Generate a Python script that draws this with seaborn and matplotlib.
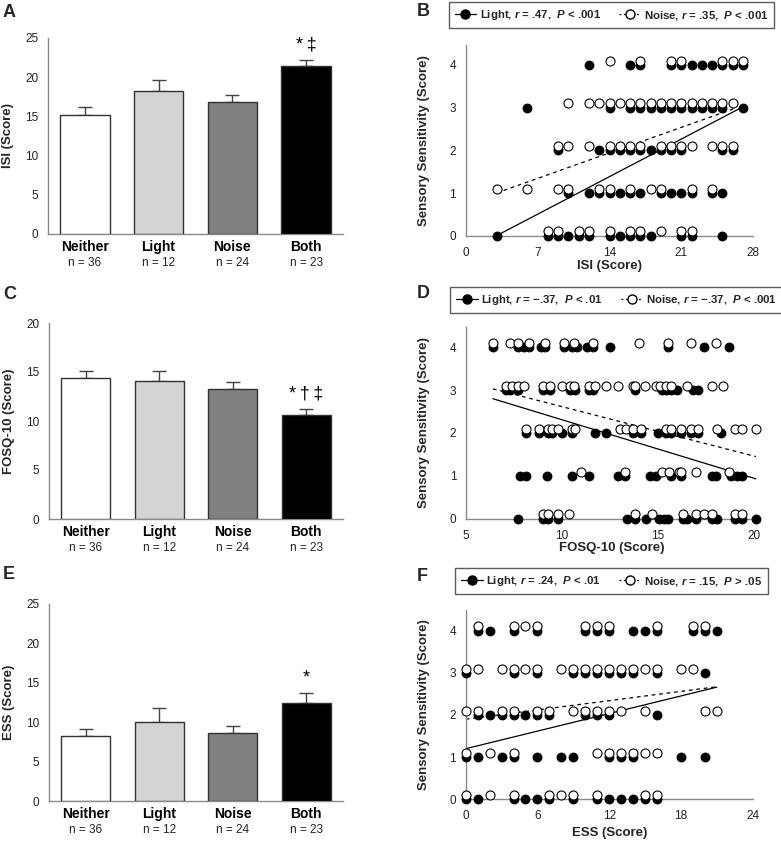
import numpy as np
import pandas as pd
import matplotlib
matplotlib.use("Agg")
import matplotlib.pyplot as plt
import matplotlib.transforms as mtransforms
from matplotlib.lines import Line2D
import seaborn as sns

# ---------------- data ----------------
cats = ["Neither", "Light", "Noise", "Both"]
ns = [36, 12, 24, 23]
bar_colors = ["#ffffff", "#d4d4d4", "#808080", "#000000"]

isi_mean = [15.2, 18.2, 16.9, 21.4]
isi_se = [0.95, 1.5, 0.8, 0.8]
isi_sig = ["", "", "", "*\u2009\u2021"]

fosq_mean = [14.4, 14.1, 13.3, 10.6]
fosq_se = [0.68, 1.02, 0.64, 0.58]
fosq_sig = ["", "", "", "*\u2009\u2020\u2009\u2021"]

ess_mean = [8.3, 10.0, 8.6, 12.5]
ess_se = [0.85, 1.8, 0.95, 1.2]
ess_sig = ["", "", "", "*"]

# scatter data: sensory sensitivity level -> scores
isi_light = {4: [12, 16, 17, 20, 21, 22, 23, 24, 25, 26, 27],
             3: [6, 14, 16, 17, 18, 19, 20, 21, 22, 23, 24, 25, 27],
             2: [9, 13, 14, 15, 16, 17, 18, 19, 20, 21, 25, 26],
             1: [10, 12, 13, 14, 15, 16, 17, 19, 20, 21, 22, 24, 25],
             0: [3, 8, 9, 10, 11, 12, 14, 15, 16, 17, 18, 21, 22, 25]}
isi_noise = {4: [14, 17, 20, 21, 25, 26, 27],
             3: [10, 12, 13, 14, 15, 16, 17, 18, 19, 20, 21, 22, 23, 24, 25, 26],
             2: [9, 10, 12, 14, 15, 16, 17, 19, 20, 21, 22, 24, 25, 26],
             1: [3, 6, 9, 10, 13, 14, 16, 18, 19, 22, 24],
             0: [8, 9, 11, 12, 14, 16, 17, 19, 21, 22]}
isi_light_fit_x = [3, 27]
isi_light_fit_y = [0.0, 3.02]
isi_noise_fit_x = [3, 26.4]
isi_noise_fit_y = [1.0, 3.0]

fosq_light = {4: [6.4, 7.7, 8.0, 8.3, 8.9, 9.1, 10.1, 10.5, 10.8, 11.3, 11.6, 12.5, 15.5, 17.4, 18.7],
              3: [7.1, 7.3, 7.7, 9.0, 9.4, 10.4, 10.7, 11.4, 11.6, 13.8, 15.2, 15.4, 15.7, 16.0, 16.8, 17.1],
              2: [8.1, 8.8, 9.25, 9.5, 10.0, 10.5, 11.7, 12.3, 13.7, 14.1, 15.0, 15.4, 15.7, 16.2, 16.7, 17.1, 18.3],
              1: [7.8, 8.1, 9.2, 10.5, 11.4, 12.9, 13.3, 14.6, 14.9, 15.7, 16.2, 17.8, 18.0, 18.8, 19.1, 19.4],
              0: [7.7, 9.0, 9.25, 9.8, 13.4, 13.8, 14.4, 15.05, 15.3, 15.5, 16.3, 16.5, 17.0, 17.8, 18.1, 19.0, 19.4, 20.1]}
fosq_noise = {4: [6.4, 7.3, 7.7, 8.3, 9.1, 10.1, 10.6, 11.6, 14.0, 15.5, 16.7, 18.0],
              3: [7.1, 7.4, 7.7, 8.0, 9.0, 9.4, 10.0, 10.4, 10.6, 11.4, 11.7, 12.3, 12.9, 13.7, 13.8,
                  14.3, 14.9, 15.1, 15.4, 15.7, 16.5, 17.8, 18.4],
              2: [8.1, 8.8, 9.25, 9.5, 9.8, 10.5, 10.7, 13.0, 13.35, 13.7, 14.1, 15.4, 15.7, 16.2,
                  16.7, 17.1, 18.1, 19.0, 19.4, 20.1],
              1: [11.0, 13.3, 15.2, 15.6, 16.1, 16.2, 17.0, 18.7],
              0: [9.0, 9.25, 9.8, 10.35, 13.8, 14.7, 16.3, 17.0, 17.4, 17.8, 19.0, 19.4]}
fosq_light_fit_x = [6.4, 20.1]
fosq_light_fit_y = [2.8, 0.93]
fosq_noise_fit_x = [6.4, 20.1]
fosq_noise_fit_y = [3.03, 1.45]

ess_light = {4: [1, 2, 4, 6, 10, 11, 12, 14, 15, 16, 19, 20, 21],
             3: [0, 4, 6, 9, 10, 11, 12, 13, 14, 16, 20],
             2: [1, 2, 3, 4, 5, 6, 7, 10, 11, 12, 16],
             1: [0, 1, 3, 4, 6, 8, 9, 12, 13, 14, 18, 20],
             0: [0, 1, 4, 5, 6, 7, 9, 11, 12, 13, 14, 15, 16]}
ess_noise = {4: [1, 4, 5, 6, 10, 11, 12, 16, 19, 20],
             3: [0, 1, 3, 4, 5, 6, 8, 9, 10, 11, 12, 13, 14, 15, 16, 18, 19],
             2: [0, 1, 3, 4, 6, 7, 9, 10, 11, 12, 13, 15, 20, 21],
             1: [0, 2, 4, 11, 12, 13, 14, 15, 16],
             0: [0, 2, 4, 7, 8, 9, 11, 15, 16]}
ess_light_fit_x = [0, 21]
ess_light_fit_y = [1.2, 2.66]
ess_noise_fit_x = [0, 21]
ess_noise_fit_y = [1.9, 2.67]

legend_B = [r"Light, $r$ = .47,  $P$ < .001", r"Noise, $r$ = .35,  $P$ < .001"]
legend_D = ["Light, $r$ = \u2212.37,  $P$ < .01", "Noise, $r$ = \u2212.37,  $P$ < .001"]
legend_F = [r"Light, $r$ = .24,  $P$ < .01", r"Noise, $r$ = .15,  $P$ > .05"]

# ---------------- style ----------------
sns.set_style("white")
FONT = ["Liberation Sans", "DejaVu Sans"]
plt.rcParams["font.family"] = FONT
plt.rcParams["mathtext.fontset"] = "custom"
plt.rcParams["mathtext.it"] = "Liberation Sans:italic:bold"
plt.rcParams["mathtext.rm"] = "Liberation Sans:bold"
plt.rcParams["mathtext.bf"] = "Liberation Sans:bold"

SPINE = "#8a8a8a"
TICKFS = 8.5
W, H = 781, 841
fig = plt.figure(figsize=(W / 100, H / 100), dpi=100)


def ax_px(left, right, top, bottom):
    return fig.add_axes([left / W, 1 - bottom / H, (right - left) / W, (bottom - top) / H])


def style_axes(ax):
    sns.despine(ax=ax)
    for s in ("left", "bottom"):
        ax.spines[s].set_color(SPINE)
        ax.spines[s].set_linewidth(1.0)
    ax.tick_params(axis="both", colors=SPINE, labelcolor="#222222", labelsize=TICKFS,
                   length=4, width=1.0, direction="out", pad=3)


def bar_panel(ax, means, ses, sig, ylabel, ymax):
    df = pd.DataFrame({"cat": cats, "val": means})
    sns.barplot(data=df, x="cat", y="val", hue="cat", palette=bar_colors, legend=False,
                errorbar=None, width=0.67, edgecolor="#333333", linewidth=1.0, ax=ax, zorder=3)
    ax.errorbar(range(4), means, yerr=[np.zeros(4), ses], fmt="none", ecolor="#444444",
                elinewidth=1.0, capsize=4.7, capthick=1.0, zorder=2)
    ax.set_xlim(-0.5, 3.5)
    ax.set_ylim(0, ymax)
    ax.set_yticks(np.arange(0, ymax + 1, 5))
    style_axes(ax)
    ax.tick_params(axis="x", length=0, pad=4)
    ax.set_xticklabels(cats, fontsize=10, fontweight="bold", color="black")
    ax.set_xlabel("")
    ax.set_ylabel(ylabel, fontsize=9.5, fontweight="bold")
    ax.yaxis.set_label_coords(-0.115, 0.5)
    tr = mtransforms.blended_transform_factory(ax.transData, ax.transAxes)
    for i, n in enumerate(ns):
        ax.text(i, -0.148, f"n = {n}", transform=tr, ha="center", va="center",
                fontsize=8.5, color="#222222")
    for i, s in enumerate(sig):
        if s:
            ax.text(i, means[i] + ses[i] + 0.035 * ymax, s, ha="center", va="bottom",
                    fontsize=13, color="black")


def expand(d):
    xs, ys = [], []
    for lvl, vals in d.items():
        xs += list(vals)
        ys += [lvl] * len(vals)
    return pd.DataFrame({"x": xs, "y": ys})


def scatter_panel(ax, light, noise, lfx, lfy, nfx, nfy, xlim, xticks, ymax, xlabel,
                  xlab_y, legend_labels, leg_center):
    dl = expand(light)
    dn = expand(noise)
    dn["y"] = dn["y"] + 0.1  # vertical display offset for open markers
    sns.lineplot(x=lfx, y=lfy, ax=ax, color="black", linewidth=0.9, zorder=2)
    sns.lineplot(x=nfx, y=nfy, ax=ax, color="black", linewidth=0.9, linestyle=(0, (3, 3)), zorder=2)
    sns.scatterplot(data=dl, x="x", y="y", ax=ax, color="black", edgecolor="black",
                    s=42, linewidth=0.6, clip_on=False, zorder=4)
    sns.scatterplot(data=dn, x="x", y="y", ax=ax, color="white", edgecolor="black",
                    s=42, linewidth=0.8, clip_on=False, zorder=5)
    ax.set_xlim(*xlim)
    ax.set_ylim(0, ymax)
    ax.set_xticks(xticks)
    ax.set_yticks([0, 1, 2, 3, 4])
    style_axes(ax)
    ax.tick_params(axis="x", pad=4)
    ax.set_xlabel(xlabel, fontsize=9.5, fontweight="bold")
    ax.xaxis.set_label_coords(0.5, xlab_y)
    ax.set_ylabel("Sensory Sensitivity (Score)", fontsize=9.5, fontweight="bold")
    ax.yaxis.set_label_coords(-0.124, 0.5)
    handles = [Line2D([0], [0], color="black", lw=0.9, marker="o", markersize=6.5,
                      markerfacecolor="black", markeredgecolor="black"),
               Line2D([0], [0], color="black", lw=0.9, linestyle=(0, (1.5, 2)), marker="o",
                      markersize=6.5, markerfacecolor="white", markeredgecolor="black")]
    leg = ax.legend(handles, legend_labels, ncol=2, loc="center",
                    bbox_to_anchor=(leg_center[0] / W, 1 - leg_center[1] / H),
                    bbox_transform=fig.transFigure, frameon=True, fancybox=False,
                    edgecolor="#333333", handlelength=1.9, handletextpad=0.3,
                    columnspacing=1.6, borderpad=0.5,
                    prop={"weight": "bold", "size": 8.2, "family": FONT})
    leg.get_frame().set_linewidth(1.0)


# ---------------- panels ----------------
axA = ax_px(48, 343, 38, 234)
bar_panel(axA, isi_mean, isi_se, isi_sig, "ISI (Score)", 25)
axC = ax_px(49, 343, 323, 519)
bar_panel(axC, fosq_mean, fosq_se, fosq_sig, "FOSQ-10 (Score)", 20)
axE = ax_px(49, 343, 604, 801)
bar_panel(axE, ess_mean, ess_se, ess_sig, "ESS (Score)", 25)

axB = ax_px(465.7, 753.3, 44.9, 235.7)
scatter_panel(axB, isi_light, isi_noise, isi_light_fit_x, isi_light_fit_y,
              isi_noise_fit_x, isi_noise_fit_y, (0, 28), [0, 7, 14, 21, 28], 4.47,
              "ISI (Score)", -0.127, legend_B, (611.5, 15))
axD = ax_px(466, 757.8, 326.7, 518.7)
scatter_panel(axD, fosq_light, fosq_noise, fosq_light_fit_x, fosq_light_fit_y,
              fosq_noise_fit_x, fosq_noise_fit_y, (5, 20.2), [5, 10, 15, 20], 4.48,
              "FOSQ-10 (Score)", -0.12, legend_D, (616.5, 300))
axF = ax_px(465.7, 752.7, 610, 799.3)
scatter_panel(axF, ess_light, ess_noise, ess_light_fit_x, ess_light_fit_y,
              ess_noise_fit_x, ess_noise_fit_y, (0, 24), [0, 6, 12, 18, 24], 4.49,
              "ESS (Score)", -0.145, legend_F, (611.5, 581))

for lab, x, y in [("A", 3, 4), ("B", 417, 3), ("C", 3, 286), ("D", 417, 285),
                  ("E", 3, 566), ("F", 417, 568)]:
    fig.text(x / W, 1 - y / H, lab, ha="left", va="top", fontsize=13, fontweight="bold",
             family=["Liberation Sans", "DejaVu Sans"])

fig.savefig("out.png", dpi=100)
